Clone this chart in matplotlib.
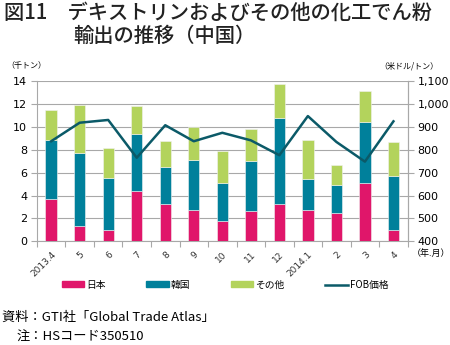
import numpy as np
import matplotlib
matplotlib.use('Agg')
import matplotlib.pyplot as plt
from matplotlib.patches import Patch
from matplotlib.lines import Line2D

plt.rcParams['font.family'] = ['Noto Sans CJK JP', 'DejaVu Sans']

# monthly exports (thousand tonnes) and FOB price (USD/tonne)
months = ['2013.4', '5', '6', '7', '8', '9', '10', '11', '12', '2014.1', '2', '3', '4']
japan = [3.7, 1.34, 1.02, 4.37, 3.24, 2.74, 1.73, 2.65, 3.26, 2.76, 2.45, 5.13, 0.99]
korea_top = [8.84, 7.75, 5.51, 9.36, 6.47, 7.14, 5.13, 7.0, 10.81, 5.42, 4.95, 10.46, 5.71]
totals = [11.43, 11.95, 8.19, 11.84, 8.77, 9.97, 7.93, 9.83, 13.76, 8.84, 6.70, 13.09, 8.66]
fob = [837, 918, 930, 765, 907, 837, 874, 841, 776, 947, 834, 748, 924]

korea = [k - j for k, j in zip(korea_top, japan)]
other = [t - k for t, k in zip(totals, korea_top)]

c_japan = '#E0166A'
c_korea = '#00809B'
c_other = '#B3D35C'
c_fob = '#0B5A68'
grid_c = '#A8A8A8'

fig = plt.figure(figsize=(4.5, 3.45), dpi=100)
ax = fig.add_axes([0.082, 0.3006, 0.824, 0.4645])
x = np.arange(len(months))
w = 0.4
ax.bar(x, japan, w, color=c_japan, edgecolor='#f2f2f2', linewidth=0.4, zorder=3)
ax.bar(x, korea, w, bottom=japan, color=c_korea, edgecolor='#f2f2f2', linewidth=0.4, zorder=3)
ax.bar(x, other, w, bottom=korea_top, color=c_other, edgecolor='#f2f2f2', linewidth=0.4, zorder=3)

ax.set_xlim(-0.5, len(months) - 0.5)
ax.set_ylim(0, 14)
ax.set_yticks(range(0, 15, 2))
ax.yaxis.grid(True, color=grid_c, linewidth=0.8, zorder=0)
ax.set_axisbelow(True)
ax.spines['top'].set_visible(False)
for s in ['left', 'right', 'bottom']:
    ax.spines[s].set_color(grid_c)
    ax.spines[s].set_linewidth(0.8)

ax.set_xticks(x)
ax.set_xticklabels(months, rotation=45, ha='right', rotation_mode='anchor',
                   fontsize=6.5, family='DejaVu Sans', color='#333333')
ax.set_xticks(np.arange(-0.5, len(months), 1), minor=True)
ax.tick_params(axis='x', which='major', length=0, pad=6)
ax.tick_params(axis='x', which='minor', length=4, color=grid_c, width=0.8)
ax.tick_params(axis='y', length=4, color=grid_c, width=0.8, labelsize=8, pad=3)
for lab in ax.get_yticklabels():
    lab.set_family('DejaVu Sans')

ax2 = ax.twinx()
ax2.plot(x, fob, color=c_fob, linewidth=1.8, zorder=4)
ax2.set_ylim(400, 1100)
ax2.set_yticks(range(400, 1101, 100))
ax2.set_yticklabels([f'{v:,}' for v in range(400, 1101, 100)], family='DejaVu Sans')
ax2.tick_params(axis='y', length=4, color=grid_c, width=0.8, labelsize=8, pad=3)
for s in ['top', 'left', 'bottom']:
    ax2.spines[s].set_visible(False)
ax2.spines['right'].set_color(grid_c)
ax2.spines['right'].set_linewidth(0.8)

# titles and unit labels
fig.text(0.01, 0.995, '図11　デキストリンおよびその他の化工でん粉', fontsize=14.6,
         va='top', ha='left', color='#222222', weight='medium')
fig.text(0.163, 0.928, '輸出の推移（中国）', fontsize=14.6, va='top', ha='left',
         color='#222222', weight='medium')
fig.text(0.015, 0.81, '（千トン）', fontsize=5.8, va='center', ha='left')
fig.text(0.975, 0.81, '（米ドル/トン）', fontsize=5.8, va='center', ha='right')
fig.text(0.915, 0.265, '（年.月）', fontsize=6.5, va='center', ha='left')

handles = [Patch(color=c_japan), Patch(color=c_korea), Patch(color=c_other),
           Line2D([0], [0], color=c_fob, linewidth=1.8)]
fig.legend(handles, ['日本', '韓国', 'その他', 'FOB価格'], loc='center',
           bbox_to_anchor=(0.5, 0.175), ncol=4, frameon=False, fontsize=7,
           handlelength=2.3, handleheight=0.5, columnspacing=4.2, handletextpad=0.2)

fig.text(0.004, 0.08, '資料：GTI社「Global Trade Atlas」', fontsize=9.5, va='center', ha='left')
fig.text(0.036, 0.022, '注：HSコード350510', fontsize=9.5, va='center', ha='left')

fig.savefig('out.png', dpi=100)
